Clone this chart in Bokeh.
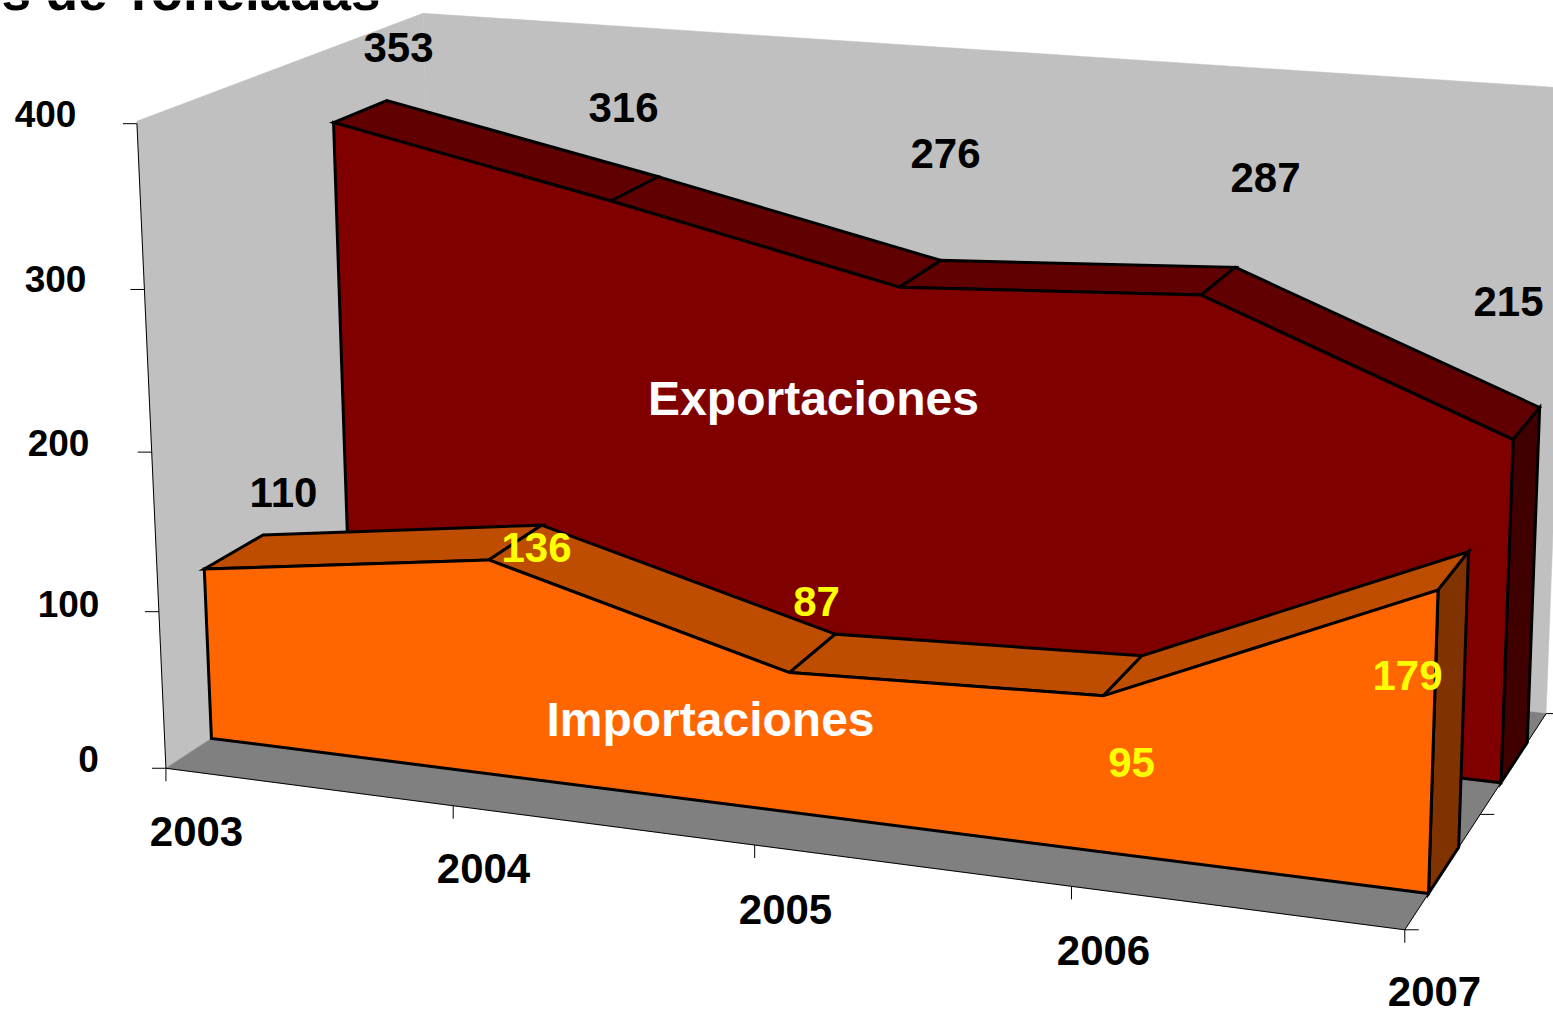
from bokeh.plotting import figure
from bokeh.models import Range1d
from bokeh.core.properties import value
from bokeh.embed import file_html
from bokeh.resources import INLINE

# ---- chart data ----
years = ["2003", "2004", "2005", "2006", "2007"]
importaciones = [110, 136, 87, 95, 179]
exportaciones = [353, 316, 276, 287, 215]
y_ticks = [0, 100, 200, 300, 400]
y_max = 400

# ---- layout: perspective of the 3-D box (category index, value, depth) -> page pixels ----
PROJ = [276.57391, -0.085193421, 330.9709, 165.43129,
        18.45261, -1.622958, -102.12419, 767.75791,
        -0.023598739, -9.3536896e-05, 0.13133302]
DEPTH_GAP = 0.15
IMP_Z = (DEPTH_GAP, 0.5 - DEPTH_GAP)
EXP_Z = (0.5 + DEPTH_GAP, 1 - DEPTH_GAP)
WALL_PAD = 1.5

# label centres in page pixels
POS_EXP = [(398, 47), (623, 107), (945, 153), (1265, 177), (1508, 301)]
POS_IMP = [(283, 492), (536, 547), (816, 601), (1131, 762), (1407, 675)]
POS_YT = [(88, 758), (68, 603), (58, 442), (55, 278), (45, 113)]
POS_XT = [(196, 831), (483, 868), (785, 909), (1103, 950), (1434, 991)]
FONT = value("Liberation Sans")


def pr(i, v, z):
    d = PROJ[8] * i + PROJ[9] * v + PROJ[10] * z + 1
    return ((PROJ[0] * i + PROJ[1] * v + PROJ[2] * z + PROJ[3]) / d,
            (PROJ[4] * i + PROJ[5] * v + PROJ[6] * z + PROJ[7]) / d)


def poly(p, pts, fill, lw=0.0):
    xs, ys = zip(*pts)
    p.patch(list(xs), list(ys), fill_color=fill, line_color="black" if lw else fill,
            line_width=lw or 0.5, line_join="miter")


p = figure(width=1553, height=1010, output_backend="svg", toolbar_location=None,
           x_range=Range1d(0, 1553), y_range=Range1d(1010, 0),
           min_border=0, outline_line_color=None, background_fill_color="white")
p.styles = {"position": "absolute", "left": "0px", "top": "0px"}
p.xaxis.visible = False
p.yaxis.visible = False
p.grid.visible = False

last = len(years) - 1
top = y_max + WALL_PAD
# walls and floor
poly(p, [pr(0, 0, 0), pr(0, top, 0), pr(0, top, 1), pr(0, 0, 1)], "#C0C0C0")
poly(p, [pr(0, 0, 1), pr(0, top, 1), pr(last, top, 1), pr(last, 0, 1)], "#C0C0C0")
poly(p, [pr(0, 0, 0), pr(last, 0, 0), pr(last, 0, 1), pr(0, 0, 1)], "#808080")

# axis lines and ticks
axx, axy = [], []
a, b = pr(0, 0, 0), pr(0, y_max, 0)
axx.append([a[0], b[0]]); axy.append([a[1], b[1]])
a, b = pr(0, 0, 0), pr(last, 0, 0)
axx.append([a[0], b[0]]); axy.append([a[1], b[1]])
a, b = pr(last, 0, 0), pr(last, 0, 1)
axx.append([a[0], b[0]]); axy.append([a[1], b[1]])
for t in y_ticks:
    a = pr(0, t, 0)
    axx.append([a[0] - 14, a[0]]); axy.append([a[1], a[1]])
for i in range(len(years)):
    a = pr(i, 0, 0)
    axx.append([a[0], a[0]]); axy.append([a[1], a[1] + 13])
for z in (0, 0.5, 1):
    a = pr(last, 0, z)
    axx.append([a[0], a[0] + 14]); axy.append([a[1], a[1]])
p.multi_line(axx, axy, line_color="black", line_width=1)


def area(vals, zs, front, top_col, side):
    z0, z1 = zs
    n = len(vals)
    for i in range(n - 1):
        poly(p, [pr(i, vals[i], z0), pr(i, vals[i], z1),
                 pr(i + 1, vals[i + 1], z1), pr(i + 1, vals[i + 1], z0)], top_col, 3)
    poly(p, [pr(n - 1, 0, z0), pr(n - 1, vals[-1], z0),
             pr(n - 1, vals[-1], z1), pr(n - 1, 0, z1)], side, 3)
    poly(p, [pr(0, 0, z0)] + [pr(i, vals[i], z0) for i in range(n)] + [pr(n - 1, 0, z0)], front, 3)


area(exportaciones, EXP_Z, "#800000", "#600000", "#400000")
area(importaciones, IMP_Z, "#FF6600", "#BF4D00", "#803300")


def label(items, size, color="black"):
    p.text([c[0][0] for c in items], [c[0][1] for c in items], text=[c[1] for c in items],
           text_font=FONT, text_font_style="bold", text_font_size=size, text_color=color,
           text_align="center", text_baseline="middle")


label(list(zip(POS_EXP, [str(v) for v in exportaciones])), "42px")
label([(POS_IMP[0], str(importaciones[0]))], "42px")
label(list(zip(POS_IMP[1:], [str(v) for v in importaciones[1:]])), "42px", "#FFFF00")
label(list(zip(POS_YT, [str(v) for v in y_ticks])), "37px")
label(list(zip(POS_XT, years)), "42px")
label([((813, 398), "Exportaciones")], "48px", "white")
label([((710, 719), "Importaciones")], "48px", "white")
p.text([380], [-9], text=["Miles de Toneladas"], text_font=FONT, text_font_style="bold",
       text_font_size="53px", text_color="black", text_align="right", text_baseline="middle")

open("out.html", "w").write(file_html(p, INLINE))
